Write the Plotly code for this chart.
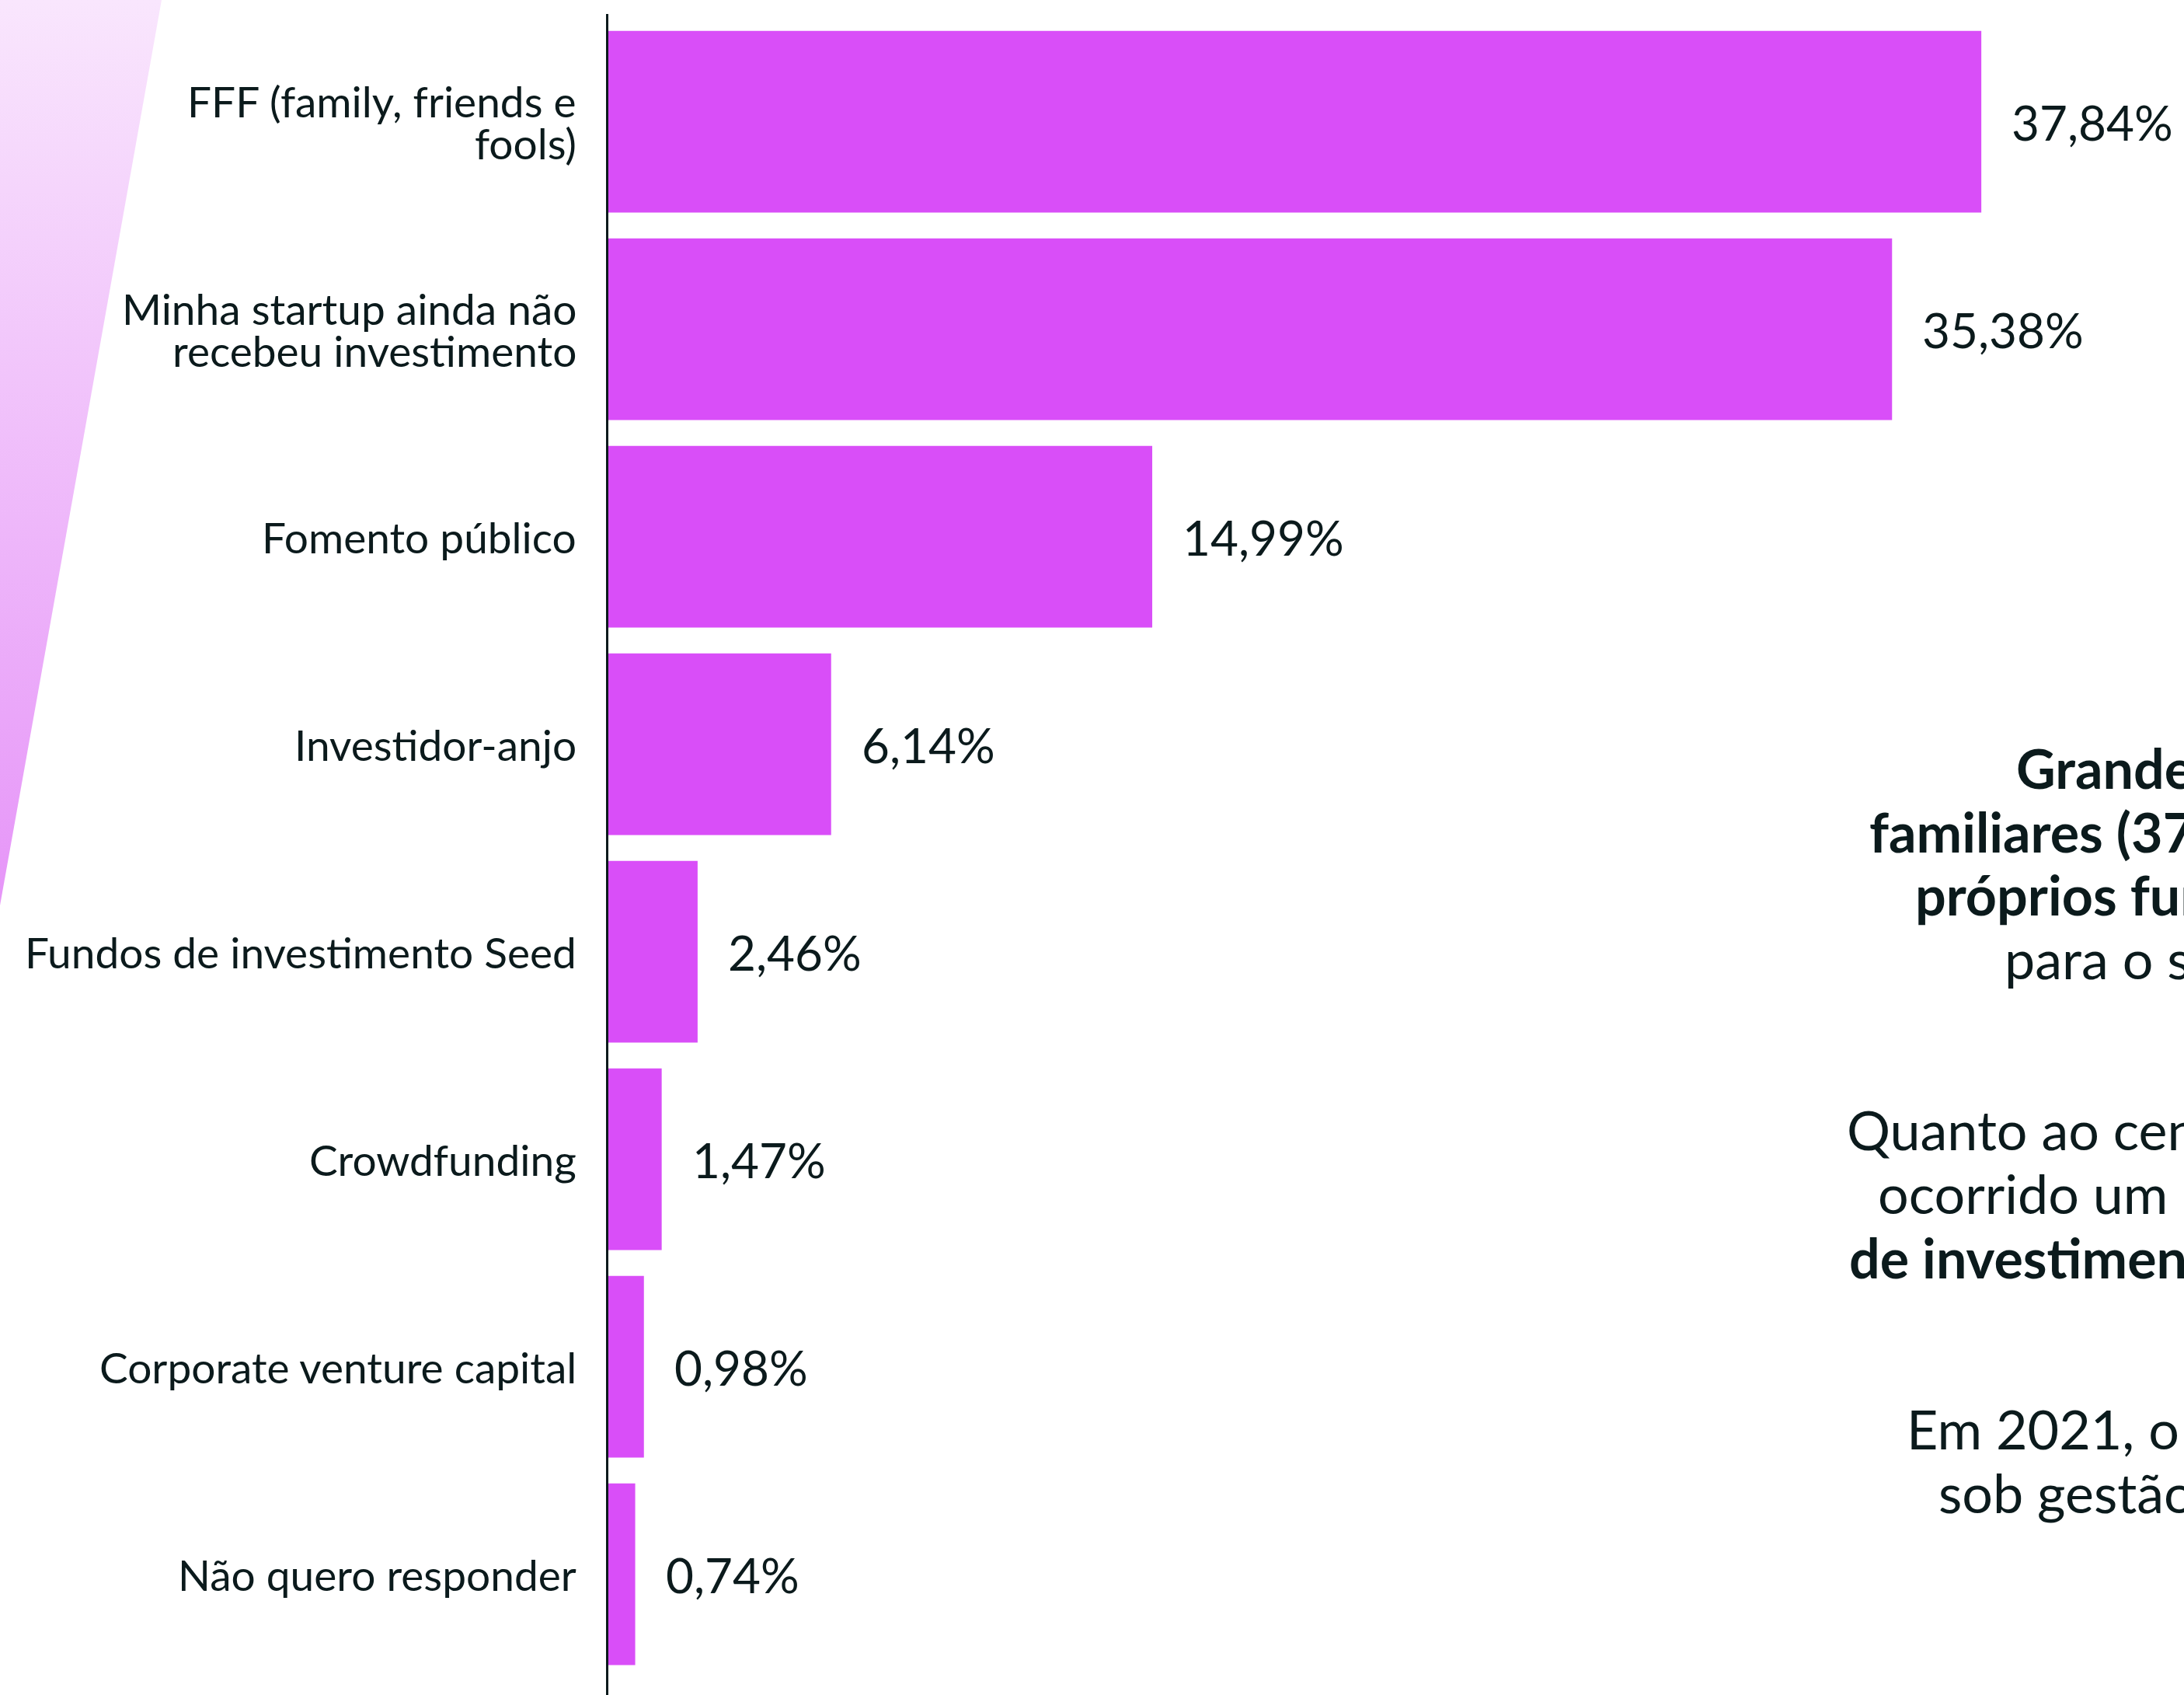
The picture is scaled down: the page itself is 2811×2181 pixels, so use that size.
import plotly.graph_objects as go

# ---------------- data ----------------
categories = [
    "FFF (family, friends e<br>fools)",
    "Minha startup ainda não<br>recebeu investimento",
    "Fomento público",
    "Investidor-anjo",
    "Fundos de investimento Seed",
    "Crowdfunding",
    "Corporate venture capital",
    "Não quero responder",
]
values = [37.84, 35.38, 14.99, 6.14, 2.46, 1.47, 0.98, 0.74]
value_labels = [f"{v:.2f}%".replace(".", ",") for v in values]

# side text (line, left x px, centre y px)
side_text = [
    ("<b>Grande parte das startups conta com recursos</b>", 2593, 988),
    ("<b>familiares (37,84%) ou dos</b>", 2404, 1070),
    ("<b>próprios fundadores</b>", 2463, 1151),
    ("para o seu desenvolvimento.", 2578, 1233),
    ("Quanto ao cenário nacional, tem", 2375, 1453),
    ("ocorrido um crescimento no volume", 2415, 1535),
    ("<b>de investimentos em startups.</b>", 2378, 1618),
    ("Em 2021, o volume de recursos", 2452, 1838),
    ("sob gestão de fundos de venture capital", 2493, 1920),
]

# ---------------- style ----------------
W, H = 2811, 2181
BAR_COLOR = "#d94ef8"
TEXT_COLOR = "#0b1a1c"
FONT = "Lato"
AXIS_LEFT_PX = 783
TOP_PX = 18
X_RANGE = [0, (W - AXIS_LEFT_PX) / 46.7]
Y_RANGE = [7.582, -0.519]
TRI_X = [0, 208, 0, 0]
TRI_Y = [0, 0, 1165, 0]

fig = go.Figure()

# decorative gradient wedge (pixel-space axes spanning the whole page)
fig.add_trace(go.Scatter(
    x=TRI_X, y=TRI_Y, xaxis="x2", yaxis="y2",
    mode="lines", line=dict(width=0), fill="toself",
    fillgradient=dict(type="vertical", start=0, stop=1165,
                      colorscale=[[0, "#f9e6fd"], [1, "#e695f8"]]),
    hoverinfo="skip", showlegend=False,
))

fig.add_trace(go.Bar(
    x=values, y=categories, orientation="h",
    marker=dict(color=BAR_COLOR, line=dict(width=0)),
    width=0.876, hoverinfo="skip", showlegend=False,
))

annotations = []
# category labels
LINE_GAP = 54
for cat in categories:
    lines = cat.split("<br>")
    n = len(lines)
    for i, ln in enumerate(lines):
        shift = ((n - 1) / 2 - i) * LINE_GAP
        annotations.append(dict(
            x=744 / W, xref="paper", y=cat, yref="y",
            text=ln, showarrow=False, xanchor="right", yanchor="middle",
            yshift=shift, font=dict(family=FONT, size=55, color=TEXT_COLOR),
        ))
# value labels
for cat, v, lab in zip(categories, values, value_labels):
    annotations.append(dict(
        x=v, xref="x", y=cat, yref="y", text=lab, showarrow=False,
        xanchor="left", yanchor="middle", xshift=37,
        font=dict(family=FONT, size=62, color=TEXT_COLOR),
    ))
# side text
for txt, px, py in side_text:
    annotations.append(dict(
        x=px / W, xref="paper", y=1 - py / H, yref="paper", text=txt,
        showarrow=False, xanchor="left", yanchor="middle",
        font=dict(family=FONT, size=70, color=TEXT_COLOR),
    ))

fig.update_layout(
    width=W, height=H,
    margin=dict(l=0, r=0, t=0, b=0, pad=0),
    paper_bgcolor="white", plot_bgcolor="rgba(0,0,0,0)",
    bargap=0.124,
    xaxis=dict(domain=[AXIS_LEFT_PX / W, 1], range=X_RANGE, visible=False,
               fixedrange=True),
    yaxis=dict(domain=[0, 1 - TOP_PX / H], range=Y_RANGE, type="category",
               categoryorder="array", categoryarray=categories,
               showline=True, linecolor=TEXT_COLOR, linewidth=3,
               showgrid=False, zeroline=False, showticklabels=False,
               ticks="", fixedrange=True),
    xaxis2=dict(domain=[0, 1], range=[0, W], visible=False, anchor="y2",
                fixedrange=True),
    yaxis2=dict(domain=[0, 1], range=[H, 0], visible=False, anchor="x2",
                fixedrange=True),
    annotations=annotations,
    showlegend=False,
)

fig.write_html("out.html", config={"displayModeBar": False},
               post_script="document.body.style.margin='0px';")
